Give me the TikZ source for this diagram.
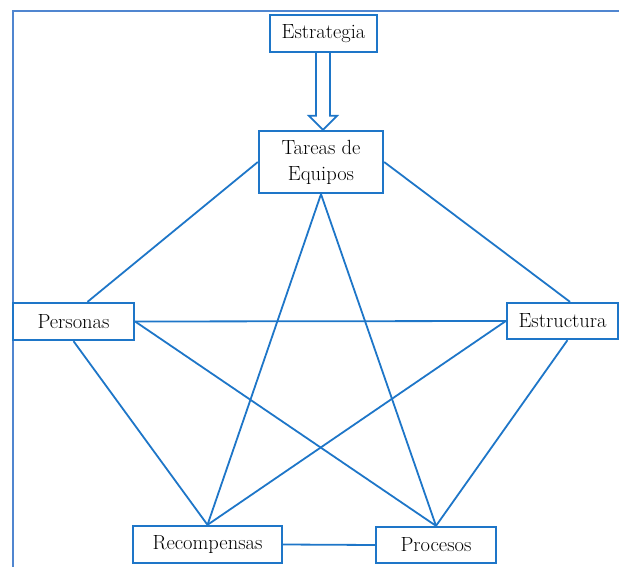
\documentclass[tikz,border=0pt]{standalone}
\usetikzlibrary{calc}
\definecolor{lnblue}{RGB}{30,118,200}
\definecolor{frblue}{RGB}{80,134,208}
\begin{document}
\begin{tikzpicture}[x=1pt,y=-1pt,
  box/.style={draw=lnblue,line width=2.3pt,fill=white,inner sep=0pt,
    font=\fontsize{20.5}{26}\selectfont,align=center},
  link/.style={draw=lnblue,line width=1.8pt}]
\useasboundingbox (0,0) rectangle (619,567);
% frame
\draw[frblue,line width=2pt] (12.5,567) -- (12.5,11) -- (619,11);
% nodes
\node[box,minimum width=107pt,minimum height=37pt] (estr) at (323.5,33.5) {Estrategia};
\node[box,minimum width=124pt,minimum height=62pt] (tar) at (321,162) {Tareas de\\Equipos};
\node[box,minimum width=121pt,minimum height=37pt] (per) at (73.5,321.5) {Personas};
\node[box,minimum width=111pt,minimum height=36pt] (est) at (562.5,321) {Estructura};
\node[box,minimum width=149pt,minimum height=37pt] (rec) at (207.5,544.5) {Recompensas};
\node[box,minimum width=120pt,minimum height=36pt] (pro) at (436,545) {Procesos};
% connectors
\coordinate (perTop) at ([xshift=14pt]per.north);
\coordinate (estTop) at ([xshift=7.5pt]est.north);
\coordinate (estBot) at ([xshift=5pt]est.south);
\draw[link] (tar.west) -- (perTop);
\draw[link] (tar.east) -- (estTop);
\draw[link] (tar.south) -- (rec.north);
\draw[link] (tar.south) -- (pro.north);
\draw[link] (per.east) -- (est.west);
\draw[link] (per.east) -- (pro.north);
\draw[link] (per.south) -- (rec.north);
\draw[link] (est.west) -- (rec.north);
\draw[link] (estBot) -- (pro.north);
\draw[link] (rec.east) -- (pro.west);
% hollow arrow
\coordinate (aTip) at ([xshift=2pt]tar.north);
\coordinate (aTop) at (aTip |- estr.south);
\draw[lnblue,line width=1.8pt,fill=white,line join=miter]
  ($(aTop)+(-7,0)$) -- ($(aTip)+(-7,-14)$) -- ($(aTip)+(-14,-14)$) -- (aTip)
  -- ($(aTip)+(14,-14)$) -- ($(aTip)+(7,-14)$) -- ($(aTop)+(7,0)$);
\end{tikzpicture}
\end{document}
